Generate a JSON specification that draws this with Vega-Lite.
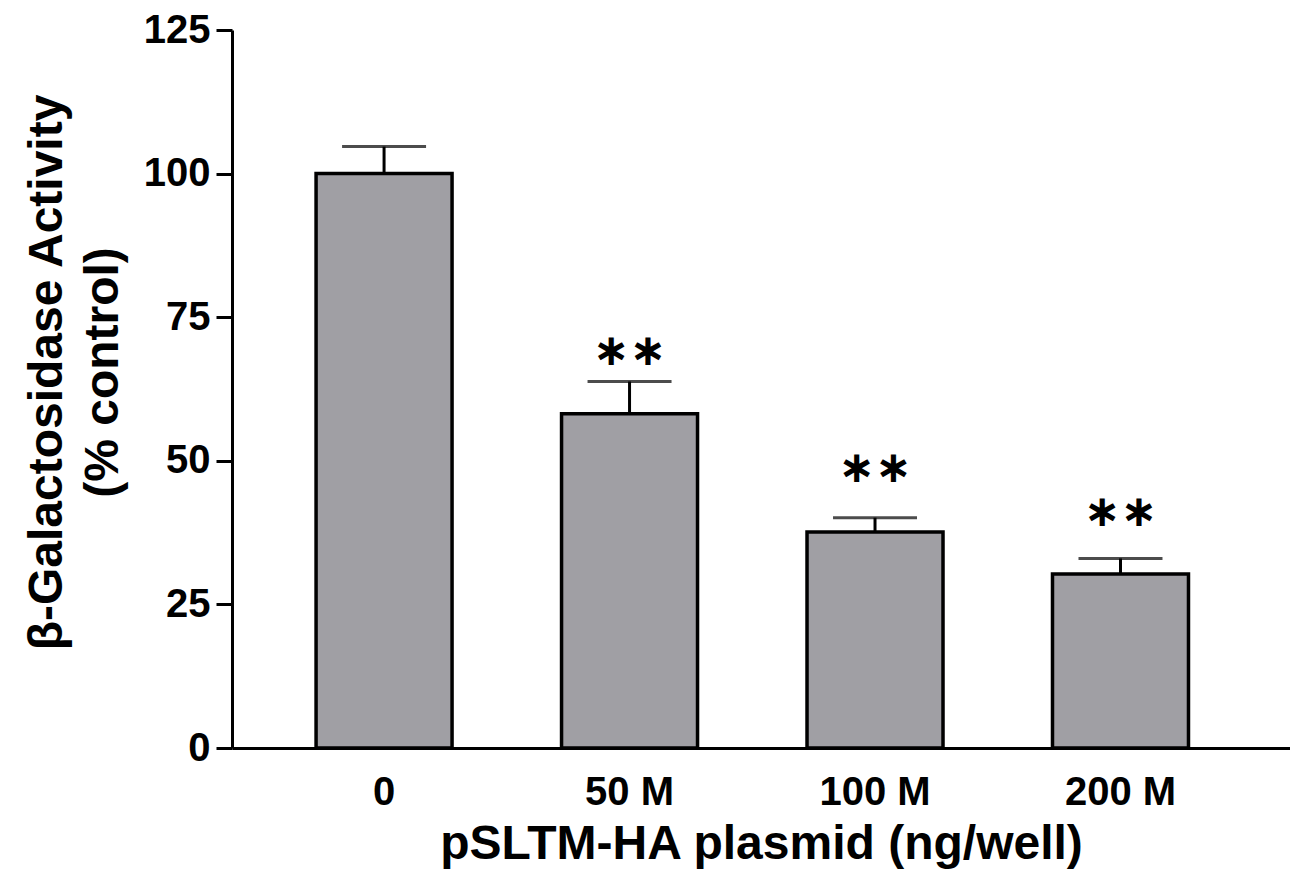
{
  "$schema": "https://vega.github.io/schema/vega-lite/v6.json",
  "width": 1058,
  "height": 718,
  "autosize": "none",
  "padding": {"left": 232, "top": 30, "right": 0, "bottom": 133},
  "background": "white",
  "config": {
    "view": {"stroke": null},
    "font": "Liberation Sans"
  },
  "data": {
    "values": [
      {"dose": "0", "mean": 100, "upper": 104.7, "star": "", "star_y": null},
      {"dose": "50 M", "mean": 58.2, "upper": 63.8, "star": "∗∗", "star_y": 69.5},
      {"dose": "100 M", "mean": 37.6, "upper": 40.1, "star": "∗∗", "star_y": 49.1},
      {"dose": "200 M", "mean": 30.3, "upper": 33.0, "star": "∗∗", "star_y": 41.4}
    ]
  },
  "encoding": {
    "x": {
      "field": "dose",
      "type": "nominal",
      "sort": null,
      "scale": {"paddingInner": 0.446, "paddingOuter": 0.378, "align": 0.453},
      "axis": {
        "title": "pSLTM-HA plasmid (ng/well)",
        "titleFont": "Liberation Sans",
        "titleFontWeight": "bold",
        "titleFontSize": 48,
        "titleColor": "black",
        "titlePadding": 8,
        "labelAngle": 0,
        "labelFont": "Liberation Sans",
        "labelFontWeight": "bold",
        "labelFontSize": 40,
        "labelColor": "black",
        "labelPadding": 24,
        "ticks": false,
        "domainColor": "black",
        "domainWidth": 3
      }
    }
  },
  "layer": [
    {
      "mark": {"type": "bar", "fill": "#a09fa4", "stroke": "black", "strokeWidth": 3.5},
      "encoding": {
        "y": {
          "field": "mean",
          "type": "quantitative",
          "scale": {"domain": [0, 125], "nice": false},
          "axis": {
            "values": [0, 25, 50, 75, 100, 125],
            "grid": false,
            "title": ["β-Galactosidase Activity", "(% control)"],
            "titleFont": "Liberation Sans",
            "titleFontWeight": "bold",
            "titleFontSize": 48,
            "titleColor": "black",
            "titleLineHeight": 56,
            "titlePadding": 16,
            "titleY": 342,
            "labelFont": "Liberation Sans",
            "labelFontWeight": "bold",
            "labelFontSize": 40,
            "labelColor": "black",
            "labelPadding": 6,
            "tickSize": 16,
            "tickWidth": 3,
            "tickColor": "black",
            "domainColor": "black",
            "domainWidth": 3
          }
        }
      }
    },
    {
      "mark": {"type": "rule", "color": "black", "strokeWidth": 3},
      "encoding": {
        "y": {"field": "mean", "type": "quantitative"},
        "y2": {"field": "upper"}
      }
    },
    {
      "mark": {"type": "tick", "color": "black", "thickness": 3, "size": 84, "orient": "horizontal"},
      "encoding": {
        "y": {"field": "upper", "type": "quantitative"}
      }
    },
    {
      "mark": {"type": "text", "font": "DejaVu Sans", "fontSize": 44, "fontWeight": "bold", "baseline": "middle", "align": "center", "color": "black", "dy": 3},
      "encoding": {
        "y": {"field": "star_y", "type": "quantitative"},
        "text": {"field": "star"}
      }
    }
  ]
}
